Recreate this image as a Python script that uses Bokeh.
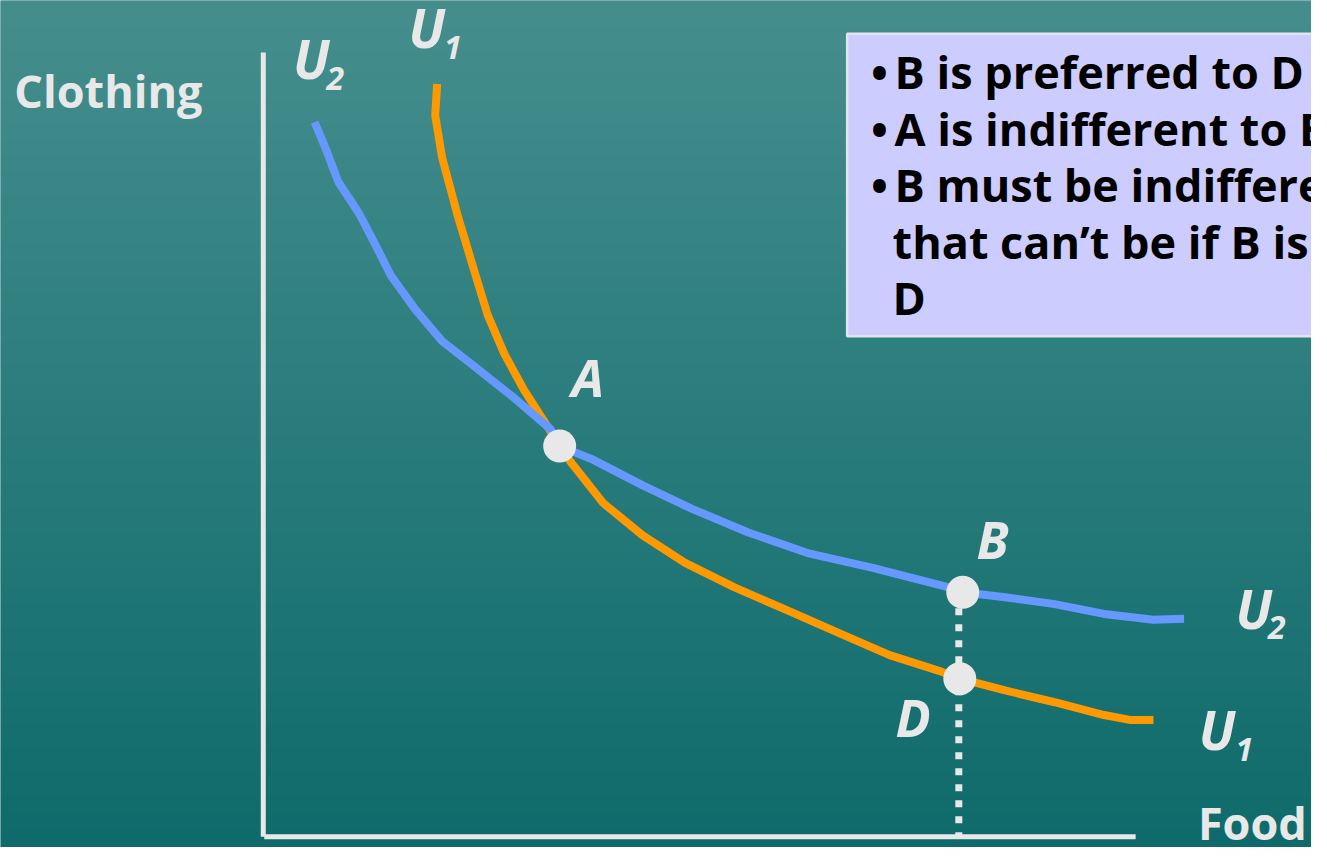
import numpy as np
from bokeh.plotting import figure
from bokeh.models import Range1d, Label
from bokeh.embed import file_html
from bokeh.resources import INLINE

# ---- data (Food on x, Clothing on y, arbitrary units) ----
u2_food = [0.51, 0.63, 0.75, 0.96, 1.13, 1.28, 1.53, 1.80, 2.13, 2.53, 2.90, 2.99,
           3.33, 3.83, 4.33, 4.90, 5.50, 6.16, 6.93, 7.07, 7.50, 8.00, 8.50, 9.00, 9.31]
u2_cloth = [7.28, 6.99, 6.67, 6.35, 6.02, 5.72, 5.37, 5.05, 4.79, 4.47, 4.15, 3.98,
            3.84, 3.58, 3.34, 3.10, 2.89, 2.74, 2.54, 2.49, 2.44, 2.37, 2.27, 2.21, 2.22]

u1_food = [1.75, 1.73, 1.80, 1.96, 2.13, 2.26, 2.43, 2.63, 2.86, 2.99, 3.10, 3.43,
           3.83, 4.26, 4.76, 5.33, 5.83, 6.33, 6.83, 7.04, 7.50, 8.00, 8.50, 8.76, 9.00]
u1_cloth = [7.67, 7.35, 6.92, 6.32, 5.75, 5.32, 4.92, 4.55, 4.19, 3.98, 3.82, 3.40,
            3.07, 2.79, 2.54, 2.29, 2.07, 1.85, 1.69, 1.61, 1.49, 1.37, 1.24, 1.19, 1.19]

point_names = ["A", "B", "D"]
point_food = [2.99, 7.07, 7.04]
point_cloth = [3.98, 2.49, 1.61]

food_axis_max = 8.82
cloth_axis_max = 7.99

box_lines = ["B is preferred to D",
             "A is indifferent to B & D",
             "B must be indifferent to D, but",
             "that can\u2019t be if B is preferred to",
             "D"]
box_bullets = [True, True, True, False, False]

# ---- colours / fonts ----
BG_TOP = (0x46, 0x8e, 0x8e)
BG_BOT = (0x0f, 0x6b, 0x6b)
LIGHT = "#e8e8e8"
BLUE = "#6699ff"
ORANGE = "#ff9900"
FONT = "Open Sans"
BASE_SHIFT = 0.42  # baseline correction, fraction of font size

xr = Range1d(-2.67, 10.60)
yr = Range1d(-0.11, 8.52)

p = figure(width=1311, height=847, x_range=xr, y_range=yr,
           output_backend="svg", toolbar_location=None,
           min_border=0, x_axis_type=None, y_axis_type=None)
p.grid.visible = False
p.outline_line_color = None
p.background_fill_color = "#2a7c7c"
p.border_fill_color = "#2a7c7c"

# background gradient
n = 256
t = np.linspace(0, 1, n)[:, None]  # 0 bottom -> 1 top
r = (BG_BOT[0] + (BG_TOP[0] - BG_BOT[0]) * t).astype(np.uint32)
g = (BG_BOT[1] + (BG_TOP[1] - BG_BOT[1]) * t).astype(np.uint32)
b = (BG_BOT[2] + (BG_TOP[2] - BG_BOT[2]) * t).astype(np.uint32)
img = (255 << 24) | (b << 16) | (g << 8) | r
img = np.repeat(img, 2, axis=1).astype(np.uint32)
p.image_rgba(image=[img], x=xr.start, y=yr.start,
             dw=xr.end - xr.start, dh=yr.end - yr.start)

# axes
p.segment(x0=[-0.01, 0.0], y0=[0.0, 0.0], x1=[-0.01, food_axis_max], y1=[cloth_axis_max, 0.0],
          line_color=LIGHT, line_width=5)

# text box
p.quad(left=[5.90], right=[11.2], bottom=[5.10], top=[8.18],
       fill_color="#ccccff", line_color="#e4e4f0", line_width=2.5)

# dotted drop line from B
p.segment(x0=[7.03], y0=[point_cloth[1]], x1=[7.03], y1=[0.0],
          line_color=LIGHT, line_width=7, line_dash="7 9")

# curves
p.line(u1_food, u1_cloth, line_color=ORANGE, line_width=8)
p.line(u2_food, u2_cloth, line_color=BLUE, line_width=8)

# points
p.scatter(point_food, point_cloth, size=33, fill_color=LIGHT, line_color=None)

def lab(x, y, text, size, style="bold", color=LIGHT):
    p.add_layout(Label(x=x, y=y, text=text, text_font=FONT, text_font_size=f"{size}px",
                       text_font_style=style, text_color=color, text_baseline="alphabetic",
                       text_align="left", y_offset=BASE_SHIFT * size))

# axis titles
lab(-2.53, 7.41, "Clothing", 45)
lab(9.45, -0.05, "Food", 45)

# curve labels
U, SUB = 53, 32
lab(0.29, 7.70, "U", U, "bold italic")
lab(0.63, 7.59, "2", SUB, "bold italic")
lab(1.46, 8.02, "U", U, "bold italic")
lab(1.82, 7.90, "1", SUB, "bold italic")
lab(9.83, 2.10, "U", U, "bold italic")
lab(10.16, 1.99, "2", SUB, "bold italic")
lab(9.46, 0.87, "U", U, "bold italic")
lab(9.83, 0.75, "1", SUB, "bold italic")

# point labels
pl_x = [3.11, 7.21, 6.39]
pl_y = [4.47, 2.82, 1.00]
for nm, x, y in zip(point_names, pl_x, pl_y):
    lab(x, y, nm, 52, "bold italic")

# box text
base_y = 7.60
step = 0.575
for i, (line, bul) in enumerate(zip(box_lines, box_bullets)):
    y = base_y - i * step
    if bul:
        lab(6.14, y, "\u2022", 45, "bold", "#000000")
        lab(6.38, y, line, 45, "bold", "#000000")
    else:
        lab(6.36, y, line, 45, "bold", "#000000")

open("out.html", "w").write(file_html(p, INLINE))
